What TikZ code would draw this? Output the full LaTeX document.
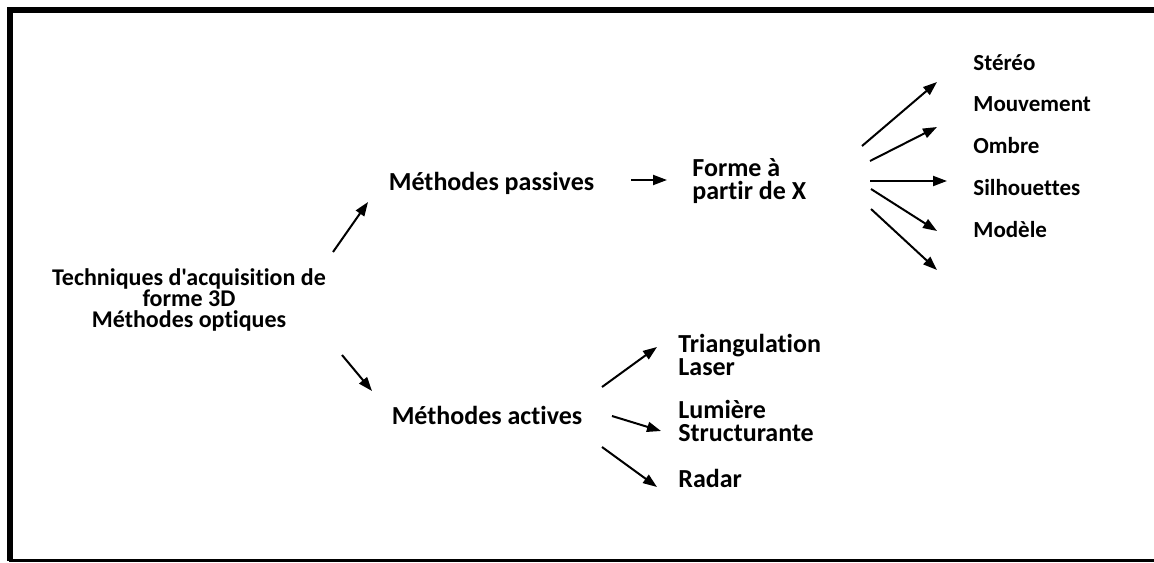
\documentclass[tikz,border=0pt]{standalone}
\usepackage{fontspec}
\setmainfont{Carlito}[Ligatures={NoCommon,TeXOff}]
\usetikzlibrary{arrows.meta}
\begin{document}
\begin{tikzpicture}[x=0.5pt,y=-0.5pt,
  lbl/.style={font=\fontsize{11.5}{11.5}\selectfont\bfseries, inner sep=0pt, align=left},
  midlbl/.style={font=\fontsize{13}{11.5}\selectfont\bfseries, inner sep=0pt, align=left},
  rootlbl/.style={font=\fontsize{12}{10.3}\selectfont\bfseries, inner sep=0pt, align=center},
  arr/.style={line width=1pt, -{Triangle[length=7pt,width=5pt]}},
  frame/.style={line width=3pt}]
\useasboundingbox (0,0) rectangle (1154,562);
% frame
\draw[frame] (1154,10) -- (10,10) -- (10,560.5);
\draw[line width=1.4pt] (8.5,560.8) -- (1154,560.8);
% nodes
\node[rootlbl] (root) at (189,300) {Techniques d'acquisition de\\forme 3D\\Méthodes optiques};
\node[midlbl] (passive) at (491.5,183) {Méthodes passives};
\node[midlbl] (active) at (487,415) {Méthodes actives};
\node[midlbl, anchor=west] (forme) at (692,181.5) {Forme à\\partir de X};
\node[lbl, anchor=west] (stereo) at (973,63) {Stéréo};
\node[lbl, anchor=west] (mouv) at (973,104) {Mouvement};
\node[lbl, anchor=west] (ombre) at (973,146) {Ombre};
\node[lbl, anchor=west] (silh) at (973,188) {Silhouettes};
\node[lbl, anchor=west] (mod) at (973,230) {Modèle};
\node[midlbl, anchor=west] (tri) at (678,354.5) {Triangulation\\Laser};
\node[midlbl, anchor=west] (lum) at (678,420.5) {Lumière\\Structurante};
\node[midlbl, anchor=west] (radar) at (678,478) {Radar};
% connector end points
\coordinate (r1) at (333,252); \coordinate (p1) at (368,202);
\coordinate (r2) at (342,355); \coordinate (c1) at (372,391);
\coordinate (p2) at (631,180); \coordinate (f1) at (667,180);
\coordinate (f2) at (862,146); \coordinate (s1) at (937,82);
\coordinate (f3) at (870,161); \coordinate (m1) at (937,127);
\coordinate (f4) at (870,181); \coordinate (o1) at (947,181);
\coordinate (f5) at (871,189); \coordinate (h1) at (937,231);
\coordinate (f6) at (871,209); \coordinate (e1) at (937,270);
\coordinate (c2) at (602,387); \coordinate (t1) at (657,347);
\coordinate (c3) at (612,416); \coordinate (l1) at (661,431);
\coordinate (c4) at (602,447); \coordinate (d1) at (657,487);
% connectors
\draw[arr] (r1) -- (p1);
\draw[arr] (r2) -- (c1);
\draw[arr] (p2) -- (f1);
\draw[arr] (f2) -- (s1);
\draw[arr] (f3) -- (m1);
\draw[arr] (f4) -- (o1);
\draw[arr] (f5) -- (h1);
\draw[arr] (f6) -- (e1);
\draw[arr] (c2) -- (t1);
\draw[arr] (c3) -- (l1);
\draw[arr] (c4) -- (d1);
\end{tikzpicture}
\end{document}
